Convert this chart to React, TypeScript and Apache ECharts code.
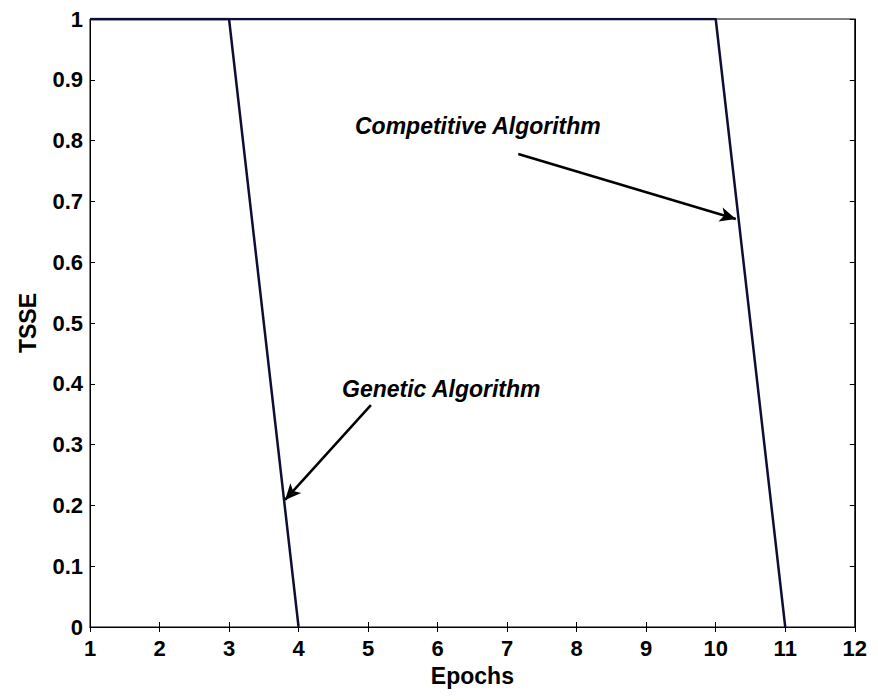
import React, { useEffect, useRef } from "react";
import * as echarts from "echarts";

const geneticX = [1, 2, 3, 4];
const geneticY = [1, 1, 1, 0];
const competitiveX = [1, 2, 3, 4, 5, 6, 7, 8, 9, 10, 11];
const competitiveY = [1, 1, 1, 1, 1, 1, 1, 1, 1, 1, 0];
const geneticArrow = [[5.04, 0.365], [3.806, 0.209]];
const competitiveArrow = [[7.16, 0.778], [10.29, 0.671]];

const FONT = "'Liberation Sans', Arial, sans-serif";
const LINE_COLOR = "#0d0d35";

export default function App() {
  const ref = useRef<HTMLDivElement>(null);
  useEffect(() => {
    if (!ref.current) return;
    const chart = echarts.init(ref.current, undefined, { renderer: "svg" });
    const tickLabel = { fontFamily: FONT, fontWeight: "bold" as const, fontSize: 22, color: "#000" };
    const nameStyle = { fontFamily: FONT, fontWeight: "bold" as const, fontSize: 23, color: "#000" };
    const arrowLine = (pts: number[][]) => ({
      silent: true,
      symbol: ["none", "arrow"],
      symbolSize: [11, 16],
      label: { show: false },
      lineStyle: { color: "#000", width: 2.5, type: "solid" as const },
      data: [[{ coord: pts[0] }, { coord: pts[1] }]],
    });
    chart.setOption({
      animation: false,
      backgroundColor: "#fff",
      grid: { left: 70, top: 8, width: 784, height: 617, show: true, borderColor: "#000", borderWidth: 1, backgroundColor: "transparent" },
      xAxis: [
        {
          type: "value", min: 1, max: 12, interval: 1,
          name: "Epochs", nameLocation: "middle", nameGap: 37,
          nameTextStyle: nameStyle,
          axisLine: { show: true, lineStyle: { color: "#000", width: 1 } },
          axisTick: { show: true, inside: true, length: 5, lineStyle: { color: "#000" } },
          axisLabel: { ...tickLabel, margin: 10 },
          splitLine: { show: false },
        },
        {
          type: "value", min: 1, max: 12, interval: 1, position: "top",
          axisLine: { show: true, lineStyle: { color: "#000", width: 1 } },
          axisTick: { show: true, inside: true, length: 5, lineStyle: { color: "#000" } },
          axisLabel: { show: false },
          splitLine: { show: false },
        },
      ],
      yAxis: [
        {
          type: "value", min: 0, max: 1, interval: 0.1,
          name: "TSSE", nameLocation: "middle", nameGap: 51,
          nameTextStyle: nameStyle,
          axisLine: { show: true, lineStyle: { color: "#000", width: 1 } },
          axisTick: { show: true, inside: true, length: 5, lineStyle: { color: "#000" } },
          axisLabel: { ...tickLabel, margin: 7, formatter: (v: number) => String(Math.round(v * 10) / 10) },
          splitLine: { show: false },
        },
        {
          type: "value", min: 0, max: 1, interval: 0.1, position: "right",
          axisLine: { show: true, lineStyle: { color: "#000", width: 1 } },
          axisTick: { show: true, inside: true, length: 5, lineStyle: { color: "#000" } },
          axisLabel: { show: false },
          splitLine: { show: false },
        },
      ],
      series: [
        {
          name: "Competitive Algorithm",
          type: "line",
          data: competitiveX.map((x, i) => [x, competitiveY[i]]),
          showSymbol: false,
          lineStyle: { color: LINE_COLOR, width: 2.5 },
          markLine: arrowLine(competitiveArrow),
        },
        {
          name: "Genetic Algorithm",
          type: "line",
          data: geneticX.map((x, i) => [x, geneticY[i]]),
          showSymbol: false,
          lineStyle: { color: LINE_COLOR, width: 2.5 },
          markLine: arrowLine(geneticArrow),
        },
      ],
      graphic: [
        {
          type: "text", left: 347, top: 106,
          style: { text: "Competitive Algorithm", font: `italic bold 23px ${FONT}`, fill: "#000" },
        },
        {
          type: "text", left: 334, top: 369,
          style: { text: "Genetic Algorithm", font: `italic bold 23px ${FONT}`, fill: "#000" },
        },
      ],
    });
    return () => chart.dispose();
  }, []);
  return <div ref={ref} style={{ width: 862, height: 684 }} />;
}
